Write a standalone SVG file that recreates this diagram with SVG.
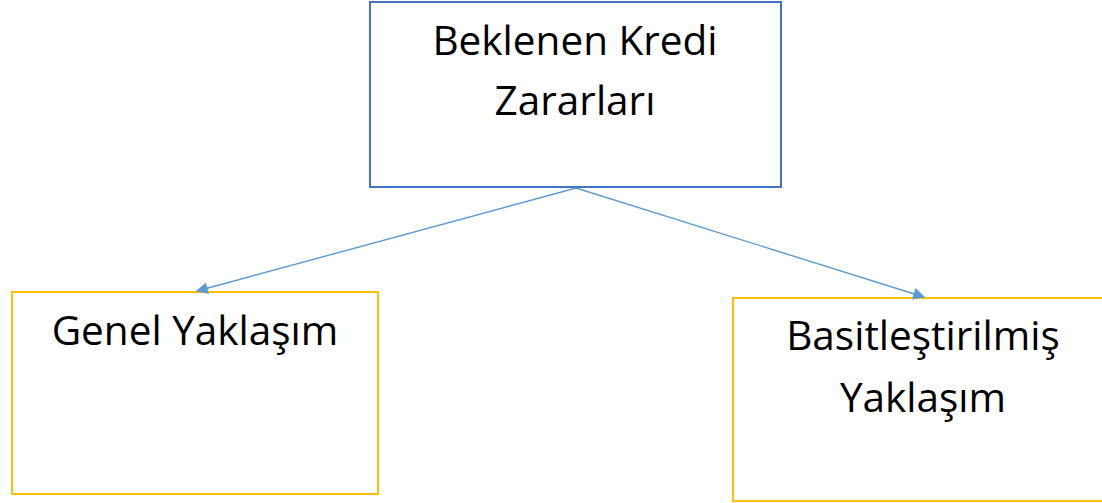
<svg xmlns="http://www.w3.org/2000/svg" width="1102" height="503" viewBox="0 0 1102 503">
<defs>
<style>
.lbl{font-family:"Open Sans","Noto Sans",sans-serif;font-size:40.5px;fill:#000;text-anchor:middle}
.blue{fill:#fff;stroke:#4472C4;stroke-width:2}
.yel{fill:#fff;stroke:#FFC000;stroke-width:2}
.con{stroke:#5B9BD5;stroke-width:1.4;fill:none;marker-end:url(#ah)}
</style>
<marker id="ah" viewBox="0 0 10 10" refX="9" refY="5" markerWidth="16" markerHeight="12" markerUnits="userSpaceOnUse" orient="auto">
<path d="M0,0 L10,5 L0,10 z" fill="#5B9BD5"/>
</marker>
</defs>
<rect width="1102" height="503" fill="#fff"/>
<g id="node-top">
<rect class="blue" x="370" y="2" width="411" height="185"/>
<text class="lbl" x="575" y="55">Beklenen Kredi</text>
<text class="lbl" x="575" y="115">Zararları</text>
</g>
<g id="node-left">
<rect class="yel" x="12" y="292" width="366" height="202"/>
<text class="lbl" x="195" y="345">Genel Yaklaşım</text>
</g>
<g id="node-right">
<rect class="yel" x="733" y="298" width="380" height="203"/>
<text class="lbl" x="923" y="350">Basitleştirilmiş</text>
<text class="lbl" x="923" y="412">Yaklaşım</text>
</g>
<g id="connectors">
<line class="con" x1="576" y1="188" x2="197" y2="291"/>
<line class="con" x1="576" y1="188" x2="924" y2="297"/>
</g>
</svg>
